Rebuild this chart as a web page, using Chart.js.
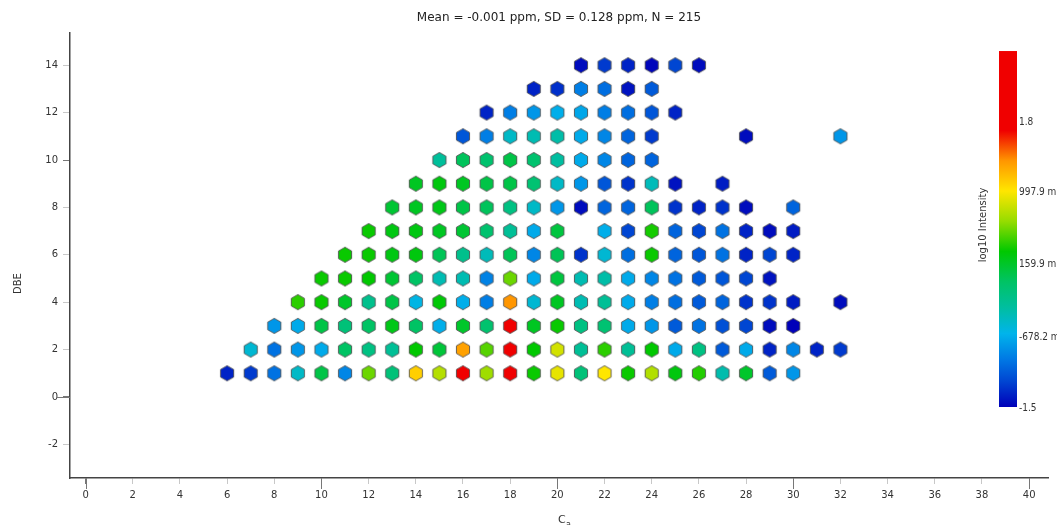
<!DOCTYPE html>
<html>
<head>
<meta charset="utf-8">
<script src="https://cdn.jsdelivr.net/npm/chart.js@4"></script>
<style>
  html, body { margin: 0; padding: 0; background: #fff; }
  #wrap { width: 1057px; height: 525px; position: relative; }
</style>
</head>
<body>
<div id="wrap"><canvas id="chart" width="1057" height="525"></canvas></div>
<script>
// Carbon numbers (columns) and DBE levels (rows)
const carbonNumbers = [6, 7, 8, 9, 10, 11, 12, 13, 14, 15, 16, 17, 18, 19, 20, 21, 22, 23, 24, 25, 26, 27, 28, 29, 30, 31, 32];
const dbeLevels = [1, 2, 3, 4, 5, 6, 7, 8, 9, 10, 11, 12, 13, 14];

// log10 intensity per carbon number (C6 ... C32), one list per DBE; _ = no formula
const _ = null;
const dbe1  = [-1.35, -1.25, -0.98, -0.5, 0.05, -0.88, 0.55, -0.15, 1.1, 0.75, 1.9, 0.68, 1.9, 0.32, 0.92, -0.15, 1.0, 0.32, 0.74, 0.25, 0.38, -0.4, 0.15, -1.1, -0.8, _, _];
const dbe2  = [_, -0.55, -0.98, -0.8, -0.7, -0.05, -0.2, -0.3, 0.3, 0.1, 1.3, 0.5, 1.9, 0.3, 0.85, -0.3, 0.4, -0.3, 0.3, -0.7, -0.2, -1.1, -0.7, -1.35, -0.88, -1.35, -1.25];
const dbe3  = [_, _, -0.8, -0.7, 0.05, -0.15, -0.05, 0.22, -0.05, -0.68, 0.15, -0.1, 1.9, 0.18, 0.32, -0.2, -0.12, -0.7, -0.8, -1.1, -0.98, -1.15, -1.2, -1.45, -1.5, _, _];
const dbe4  = [_, _, _, 0.4, 0.32, 0.15, -0.25, 0.05, -0.62, 0.28, -0.68, -0.92, 1.35, -0.55, 0.18, -0.42, -0.3, -0.7, -0.92, -1.0, -1.1, -1.05, -1.28, -1.28, -1.38, _, -1.45];
const dbe5  = [_, _, _, _, 0.32, 0.32, 0.3, 0.12, -0.05, -0.42, -0.42, -0.9, 0.55, -0.7, 0.08, -0.42, -0.38, -0.7, -0.88, -0.98, -1.1, -1.12, -1.2, -1.42, _, _, _];
const dbe6  = [_, _, _, _, _, 0.32, 0.32, 0.24, 0.25, 0.0, -0.25, -0.45, 0.0, -0.88, 0.0, -1.28, -0.55, -1.0, 0.32, -1.05, -1.12, -0.98, -1.35, -1.2, -1.35, _, _];
const dbe7  = [_, _, _, _, _, _, 0.32, 0.24, 0.24, 0.18, 0.12, -0.1, -0.3, -0.7, 0.08, _, -0.68, -1.2, 0.35, -1.05, -1.2, -0.98, -1.35, -1.45, -1.38, _, _];
const dbe8  = [_, _, _, _, _, _, _, 0.12, 0.18, 0.22, 0.05, -0.02, -0.2, -0.5, -0.8, -1.45, -1.05, -1.05, -0.02, -1.28, -1.35, -1.28, -1.45, _, -1.05, _, _];
const dbe9  = [_, _, _, _, _, _, _, _, 0.18, 0.25, 0.18, 0.05, 0.05, -0.12, -0.5, -0.8, -1.12, -1.28, -0.45, -1.42, _, -1.38, _, _, _, _, _];
const dbe10 = [_, _, _, _, _, _, _, _, _, -0.32, -0.02, -0.1, 0.05, -0.1, -0.35, -0.7, -0.88, -1.05, -1.05, _, _, _, _, _, _, _, _];
const dbe11 = [_, _, _, _, _, _, _, _, _, _, -1.12, -0.92, -0.5, -0.42, -0.38, -0.7, -0.88, -1.05, -1.25, _, _, _, -1.45, _, _, _, -0.8];
const dbe12 = [_, _, _, _, _, _, _, _, _, _, _, -1.35, -0.92, -0.8, -0.68, -0.72, -0.92, -1.0, -1.12, -1.35, _, _, _, _, _, _, _];
const dbe13 = [_, _, _, _, _, _, _, _, _, _, _, _, _, -1.35, -1.3, -0.92, -1.0, -1.42, -1.1, _, _, _, _, _, _, _, _];
const dbe14 = [_, _, _, _, _, _, _, _, _, _, _, _, _, _, _, -1.45, -1.25, -1.35, -1.48, -1.2, -1.45, _, _, _, _, _, _];
const intensityRows = [dbe1, dbe2, dbe3, dbe4, dbe5, dbe6, dbe7, dbe8, dbe9, dbe10, dbe11, dbe12, dbe13, dbe14];

// Colour bar range and tick labels
const colorMin = -1.5;
const colorMax = 2.62;
const colorTickValues = [1.8, 0.9979, 0.1599, -0.6782, -1.5];
const colorTickLabels = ['1.8', '997.9 m', '159.9 m', '-678.2 m', '-1.5'];

const titleText = 'Mean = -0.001 ppm, SD = 0.128 ppm, N = 215';

// Rainbow colour map: [log10 intensity, rgb]
const cmapStops = [
  [-1.5, [0, 0, 185]],
  [-1.2, [0, 70, 210]],
  [-0.95, [0, 120, 228]],
  [-0.65, [0, 180, 235]],
  [-0.35, [0, 190, 160]],
  [-0.05, [0, 195, 100]],
  [0.3, [0, 200, 0]],
  [0.65, [150, 220, 0]],
  [1.0, [255, 230, 0]],
  [1.35, [255, 150, 0]],
  [1.7, [240, 0, 0]],
  [2.62, [240, 0, 0]]
];

function colorFor(v) {
  if (v <= cmapStops[0][0]) return rgb(cmapStops[0][1]);
  for (let i = 1; i < cmapStops.length; i++) {
    const [v1, c1] = cmapStops[i];
    const [v0, c0] = cmapStops[i - 1];
    if (v <= v1) {
      const t = (v - v0) / (v1 - v0);
      return rgb([0, 1, 2].map(k => Math.round(c0[k] + (c1[k] - c0[k]) * t)));
    }
  }
  return rgb(cmapStops[cmapStops.length - 1][1]);
}
function rgb(c) { return 'rgb(' + c[0] + ',' + c[1] + ',' + c[2] + ')'; }

// Hexagon markers, one small canvas per fill colour
const hexCache = {};
function hexMarker(color) {
  if (hexCache[color]) return hexCache[color];
  const size = 18, r = 7.6, c = size / 2;
  const cv = document.createElement('canvas');
  cv.width = size; cv.height = size;
  const g = cv.getContext('2d');
  g.beginPath();
  for (let k = 0; k < 6; k++) {
    const a = (60 * k - 90) * Math.PI / 180;
    const px = c + r * Math.cos(a), py = c + r * Math.sin(a);
    if (k === 0) g.moveTo(px, py); else g.lineTo(px, py);
  }
  g.closePath();
  g.fillStyle = color;
  g.fill();
  g.lineWidth = 1;
  g.strokeStyle = 'rgba(70,70,70,0.8)';
  g.stroke();
  hexCache[color] = cv;
  return cv;
}

// Flatten the grid into scatter points
const points = [];
dbeLevels.forEach((dbe, ri) => {
  intensityRows[ri].forEach((v, ci) => {
    if (v !== null) points.push({ x: carbonNumbers[ci], y: dbe, v: v });
  });
});

const FONT = 'DejaVu Sans';
const NARROW = '"DejaVu Sans Condensed", "Liberation Sans Narrow", "DejaVu Sans"';
const TEXT = '#333';

const decorPlugin = {
  id: 'decor',
  afterDraw(chart) {
    const ctx = chart.ctx;
    const area = chart.chartArea;
    const xs = chart.scales.x, ys = chart.scales.y;
    ctx.save();

    // longer major ticks
    ctx.strokeStyle = '#777';
    ctx.lineWidth = 1;
    [0, 10, 20, 30, 40].forEach(v => {
      const px = Math.round(xs.getPixelForValue(v)) + 0.5;
      ctx.beginPath(); ctx.moveTo(px, area.bottom); ctx.lineTo(px, area.bottom + 11); ctx.stroke();
    });
    [0].forEach(v => {
      const py = Math.round(ys.getPixelForValue(v)) + 0.5;
      ctx.beginPath(); ctx.moveTo(area.left - 14, py); ctx.lineTo(area.left, py); ctx.stroke();
    });

    // title
    ctx.fillStyle = '#222';
    ctx.font = '12px "' + FONT + '"';
    ctx.textAlign = 'center';
    ctx.textBaseline = 'middle';
    ctx.fillText(titleText, (area.left + area.right) / 2, 18);

    // axis titles
    ctx.font = '10px "' + FONT + '"';
    ctx.fillStyle = TEXT;
    ctx.save();
    ctx.translate(18, (area.top + area.bottom) / 2 + 28);
    ctx.rotate(-Math.PI / 2);
    ctx.textBaseline = 'middle';
    ctx.fillText('DBE', 0, 0);
    ctx.restore();
    const cx = (area.left + area.right) / 2 + 5;
    ctx.textAlign = 'left';
    ctx.textBaseline = 'alphabetic';
    ctx.font = '11px "' + FONT + '"';
    ctx.fillText('C', cx - 6, 523);
    ctx.font = '8px "' + FONT + '"';
    ctx.fillText('a', cx + 2, 527);

    // colour bar
    const barL = 999, barR = 1017, barBottom = 407, pxPerUnit = 86.4;
    const yFor = v => barBottom - (v - colorMin) * pxPerUnit;
    const barTop = yFor(colorMax);
    const grad = ctx.createLinearGradient(0, barBottom, 0, barTop);
    cmapStops.forEach(([v, c]) => {
      grad.addColorStop(Math.min(1, Math.max(0, (v - colorMin) / (colorMax - colorMin))), rgb(c));
    });
    ctx.fillStyle = grad;
    ctx.fillRect(barL, barTop, barR - barL, barBottom - barTop);

    ctx.fillStyle = TEXT;
    ctx.font = '10px ' + NARROW;
    ctx.textAlign = 'left';
    ctx.textBaseline = 'middle';
    colorTickValues.forEach((v, i) => {
      ctx.fillText(colorTickLabels[i], barR + 2, yFor(v) + 1);
    });
    ctx.font = '10px "' + FONT + '"';
    ctx.save();
    ctx.translate(983, 225);
    ctx.rotate(-Math.PI / 2);
    ctx.textAlign = 'center';
    ctx.fillText('log10 Intensity', 0, 0);
    ctx.restore();

    ctx.restore();
  }
};

const tickColor = ctx => (ctx.tick && ctx.tick.value % 10 === 0) ? '#777' : '#c8c8c8';

new Chart(document.getElementById('chart'), {
  type: 'scatter',
  data: {
    datasets: [{
      data: points,
      pointStyle: ctx => hexMarker(colorFor(ctx.raw.v)),
      pointRadius: 8,
      pointHoverRadius: 8
    }]
  },
  options: {
    responsive: false,
    devicePixelRatio: 1,
    animation: false,
    events: [],
    layout: { padding: { top: 33, right: 3, left: 0, bottom: 0 } },
    plugins: { legend: { display: false }, title: { display: false }, tooltip: { enabled: false } },
    scales: {
      x: {
        type: 'linear',
        min: -0.66,
        max: 40.8,
        afterFit: s => { s.height = 47; },
        border: { display: true, color: '#444', width: 1.5 },
        grid: { drawOnChartArea: false, drawTicks: true, tickLength: 6, color: tickColor, lineWidth: 1 },
        ticks: { stepSize: 2, includeBounds: false, autoSkip: false, maxRotation: 0, padding: 5,
                 color: TEXT, font: { family: FONT, size: 10 } }
      },
      y: {
        type: 'linear',
        min: -3.42,
        max: 15.36,
        afterFit: s => { s.width = 70; },
        border: { display: true, color: '#444', width: 1.5 },
        grid: { drawOnChartArea: false, drawTicks: true, tickLength: 7, color: tickColor, lineWidth: 1 },
        ticks: { stepSize: 2, includeBounds: false, autoSkip: false, padding: 5,
                 color: TEXT, font: { family: FONT, size: 10 } }
      }
    }
  },
  plugins: [decorPlugin]
});
</script>
</body>
</html>
